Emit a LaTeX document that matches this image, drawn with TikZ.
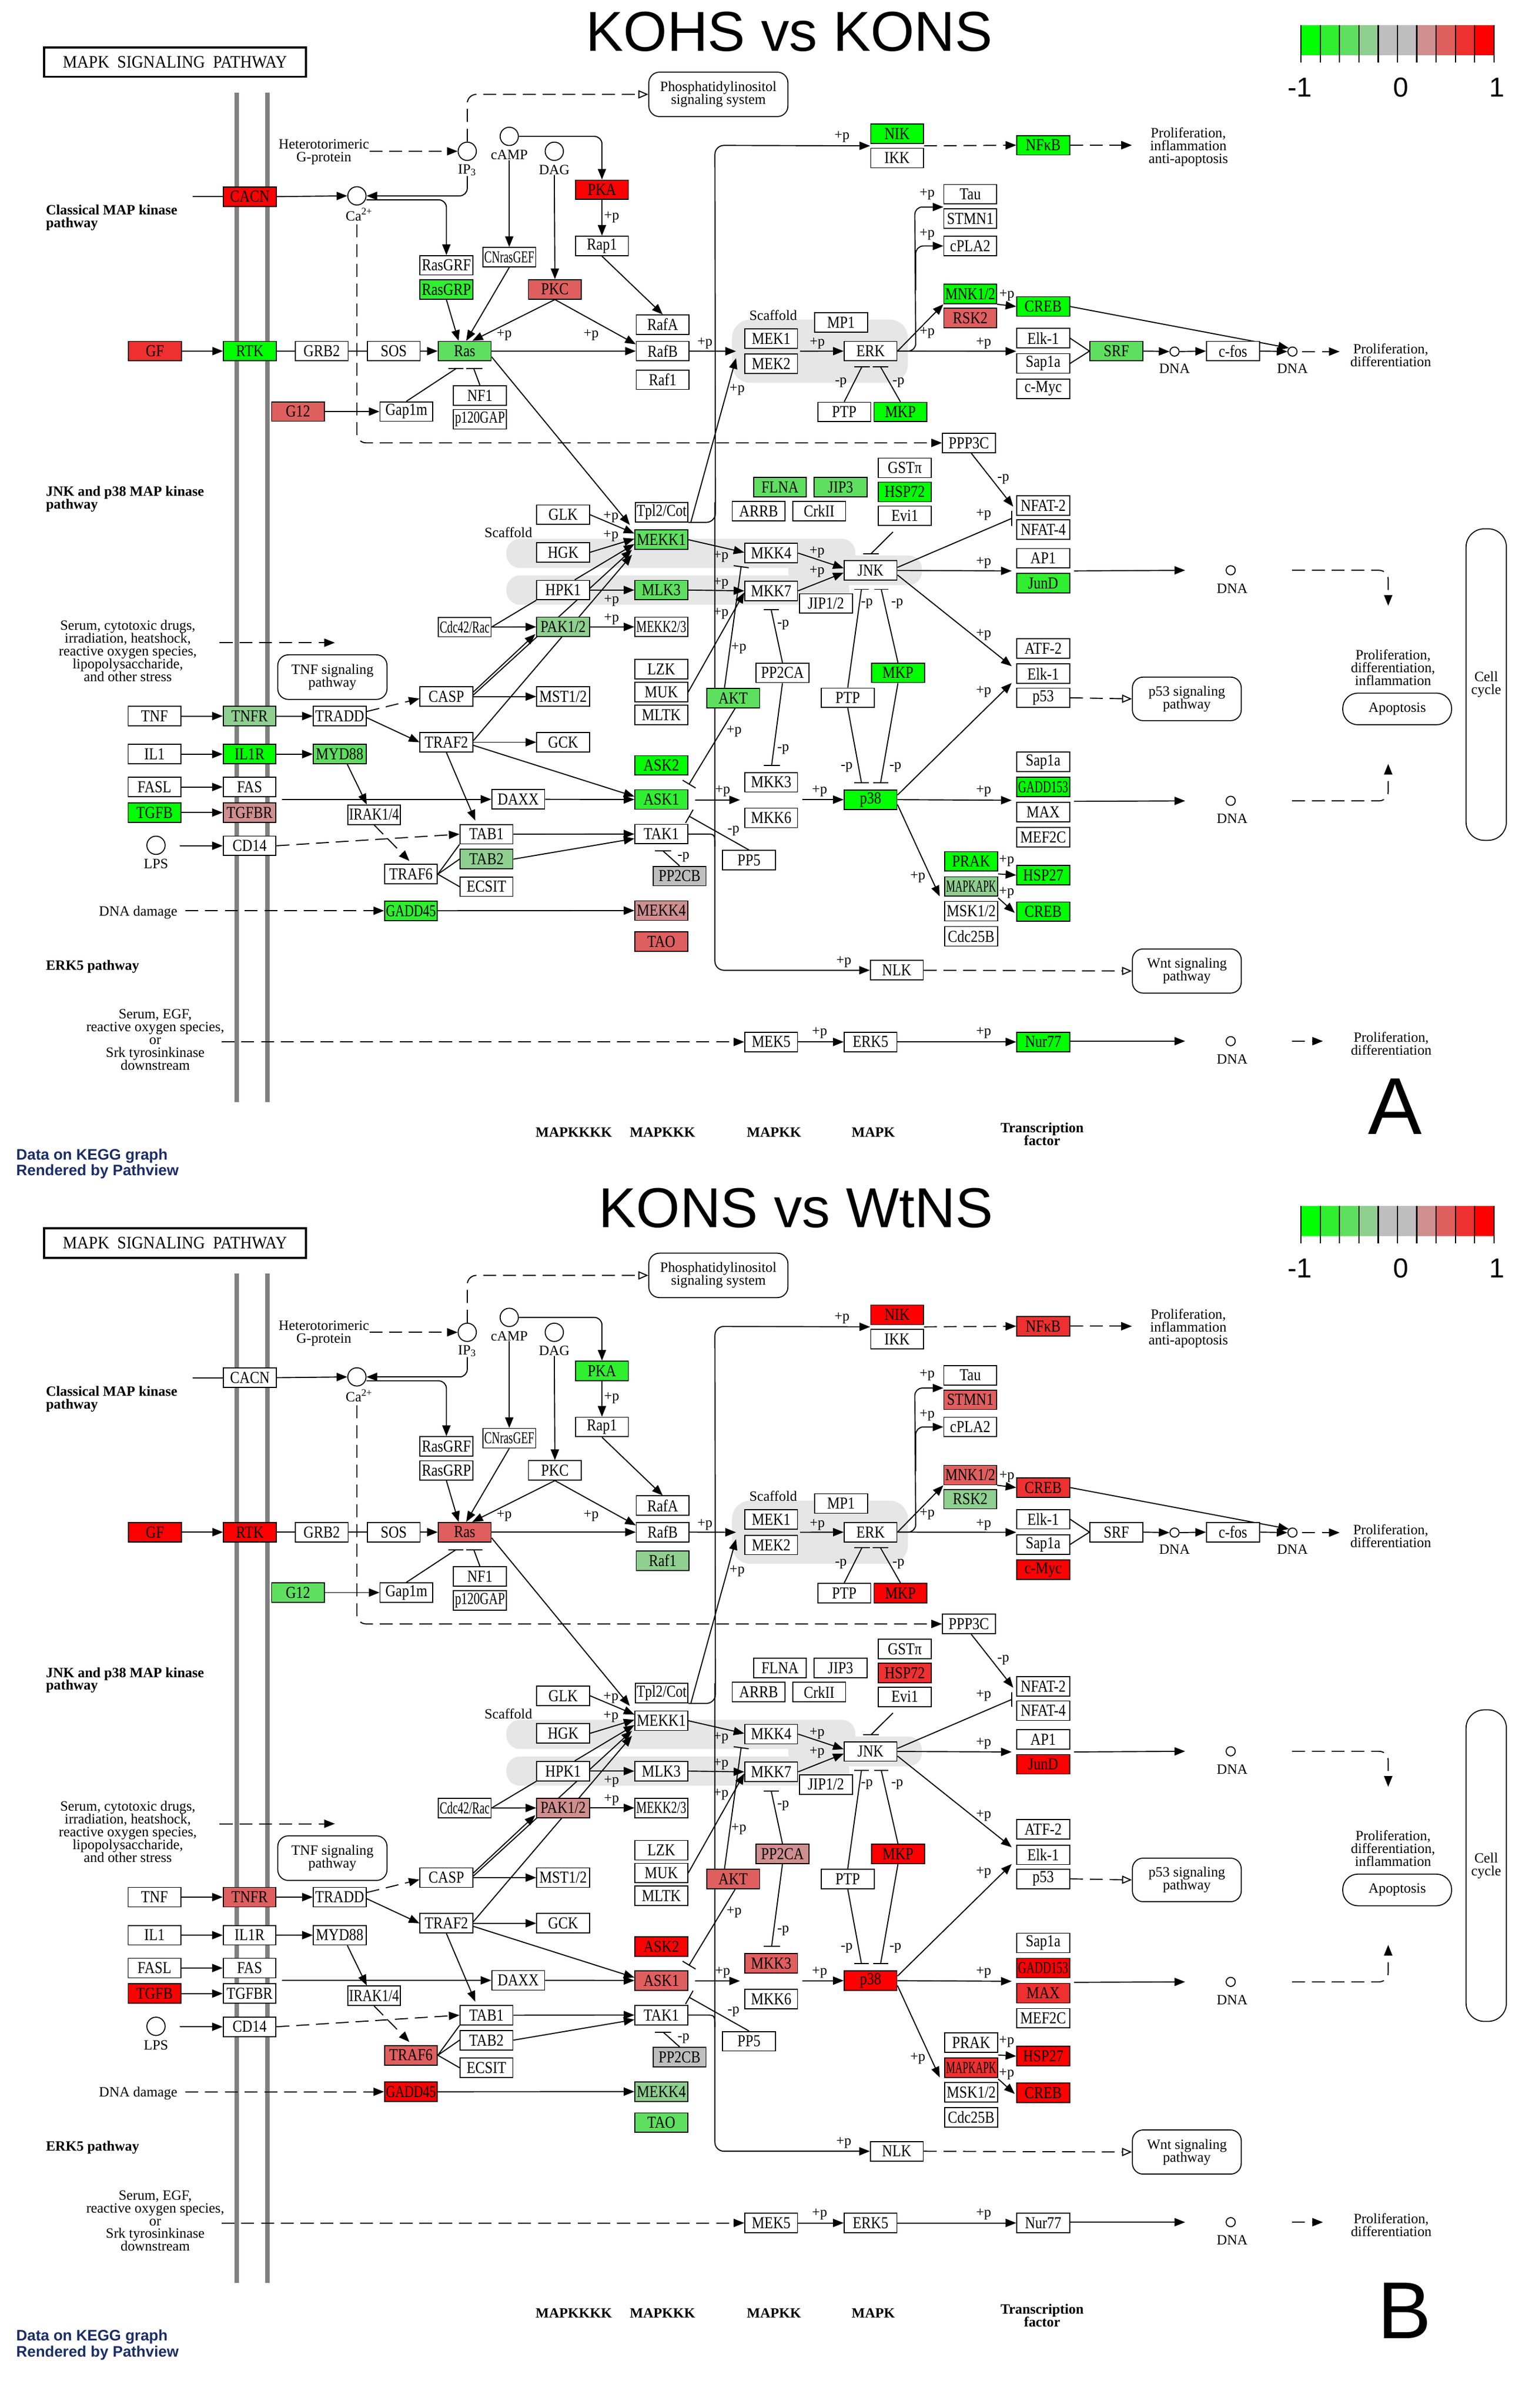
\documentclass[tikz,border=0pt]{standalone}
\usepackage{fontspec}
\setmainfont{Liberation Serif}
\setsansfont{Liberation Sans}
\usepackage{graphicx}
\usetikzlibrary{arrows.meta,calc}
\pgfdeclarelayer{bg}
\pgfdeclarelayer{mid}
\pgfsetlayers{bg,mid,main}
\definecolor{g1}{HTML}{00FF00}
\definecolor{g2}{HTML}{30EF30}
\definecolor{g3}{HTML}{5FDF5F}
\definecolor{g4}{HTML}{8FCF8F}
\definecolor{gy}{HTML}{BEBEBE}
\definecolor{r4}{HTML}{CF8F8F}
\definecolor{r3}{HTML}{DF5F5F}
\definecolor{r2}{HTML}{EF3030}
\definecolor{r1}{HTML}{FF0000}
\definecolor{scafc}{HTML}{E6E6E6}
\definecolor{memb}{HTML}{808080}
\definecolor{pvblue}{HTML}{1A2E66}
\newsavebox\glbox
\newcommand\gfont{\fontsize{11}{11}\selectfont}
\newcommand\kfont{\fontsize{9.3}{8.4}\selectfont\lineskiplimit=-8pt\relax}
\newcommand\bkfont{\fontsize{9.3}{8.4}\selectfont\bfseries\lineskiplimit=-8pt\relax}
\newcommand\glab[1]{\sbox\glbox{\gfont\scalebox{0.85}[1]{#1}}\ifdim\wd\glbox>32.8pt\resizebox{32.8pt}{\height}{\usebox\glbox}\else\usebox\glbox\fi}
\newcommand\setgc[2]{\expandafter\def\csname gcX#1\endcsname{#2}}
\newcommand\gene[3]{\ifcsname gcX#1\endcsname\edef\gtmp{\csname gcX#1\endcsname}\else\def\gtmp{white}\fi
  \node[gene,fill=\gtmp] (#1) at (#2) {\glab{#3}};}
\newcommand\pl[3]{\node[lbl] (#1) at (#2) {#3};}
\tikzset{
  gene/.style={draw=black,line width=0.65pt,minimum width=34.7pt,minimum height=12.8pt,inner sep=0pt},
  lbl/.style={inner sep=0pt,font=\kfont,align=center},
  blbl/.style={inner sep=0pt,font=\bkfont,align=center},
  con/.style={line width=0.7pt,draw=black},
  arr/.style={con,-{Triangle[length=7pt,width=5.4pt]}},
  oarr/.style={con,-{Triangle[open,length=6.5pt,width=5.4pt]}},
  inh/.style={con,-{Bar[width=10pt,line width=0.7pt]}},
  dsh/.style={dash pattern=on 8.5pt off 4.5pt},
  cpd/.style={circle,draw=black,line width=0.65pt,minimum size=12pt,inner sep=0pt,fill=white},
  dnac/.style={circle,draw=black,line width=0.65pt,minimum size=6pt,inner sep=0pt,fill=white},
  mapbox/.style={draw=black,line width=0.65pt,rounded corners=7pt,align=center,font=\kfont,inner sep=0pt,fill=white},
}
\newcommand\drawpanel{%
\begin{pgfonlayer}{bg}
 \draw[memb,line width=2.7pt] (155.5,60.8) -- (155.5,724.1);
 \draw[memb,line width=2.7pt] (175.7,60.8) -- (175.7,724.1);
 \fill[scafc,rounded corners=12pt] (481,210) rectangle (596.5,251.5);
 \fill[scafc,rounded corners=9pt] (332.7,354) rectangle (562,373.2);
 \fill[scafc,rounded corners=9pt] (332.7,378.1) rectangle (558,397.3);
 \fill[scafc,rounded corners=9pt] (518,365) rectangle (605.8,384.5);
\end{pgfonlayer}
 \node[draw,line width=1.3pt,minimum width=172.1pt,minimum height=19.4pt,inner sep=0pt] (mapk) at (114.95,40.8) {\scalebox{0.92}[1]{\fontsize{11.5}{11.5}\selectfont MAPK\enspace SIGNALING\enspace PATHWAY}};
 \foreach \c [count=\i from 0] in {g1,g2,g3,g4,gy,gy,r4,r3,r2,r1}{\fill[\c] (854.8+12.68*\i,16.4) rectangle ++(12.68,19.9);}
 \foreach \i in {0,...,10}{\draw[line width=0.8pt] (854.8+12.68*\i,16.4) -- ++(0,24.6);}
 \node[font=\fontsize{18}{18}\selectfont\sffamily,inner sep=0pt] (lgm) at (854,57.3) {-1};
 \node[font=\fontsize{18}{18}\selectfont\sffamily,inner sep=0pt] (lgz) at (920.3,57.3) {0};
 \node[font=\fontsize{18}{18}\selectfont\sffamily,inner sep=0pt] (lgp) at (983.5,57.3) {1};
 \node[anchor=west,align=left,inner sep=0pt,font=\fontsize{10}{10.5}\selectfont\sffamily\bfseries,text=pvblue] (kegg) at (10.5,764.6) {Data on KEGG graph\\Rendered by Pathview};
 \gene{cacn}{164.2,129.2}{CACN}
 \gene{gf}{101.8,230.7}{GF}
 \gene{rtk}{164.2,230.7}{RTK}
 \gene{grb2}{211.4,230.7}{GRB2}
 \gene{sos}{258.7,230.7}{SOS}
 \gene{ras}{305.3,230.7}{Ras}
 \gene{g12}{195.8,270.4}{G12}
 \gene{gap1m}{267,270.4}{Gap1m}
 \gene{nf1}{315.3,259.8}{NF1}
 \gene{p120}{315.3,275.5}{p120GAP}
 \gene{rasgrf}{293.3,174.3}{RasGRF}
 \gene{rasgrp}{293.3,190.2}{RasGRP}
 \gene{cnras}{334.6,169}{CNrasGEF}
 \gene{pka}{395.5,124.7}{PKA}
 \gene{rap1}{395.5,161.6}{Rap1}
 \gene{pkc}{364.6,190.1}{PKC}
 \gene{rafa}{435.4,213.3}{RafA}
 \gene{rafb}{435.4,230.7}{RafB}
 \gene{raf1}{435.4,249.5}{Raf1}
 \gene{mek1}{506.7,222.4}{MEK1}
 \gene{mek2}{506.7,239.1}{MEK2}
 \gene{mp1}{552.6,211.9}{MP1}
 \gene{erk}{572,230.7}{ERK}
 \gene{ptpA}{554.7,270.7}{PTP}
 \gene{mkpA}{591.6,270.7}{MKP}
 \gene{nik}{589.4,87.9}{NIK}
 \gene{ikk}{589.4,103.8}{IKK}
 \gene{nfkb}{685.4,95.4}{NFκB}
 \gene{tau}{637.5,127.6}{Tau}
 \gene{stmn1}{637.5,143.7}{STMN1}
 \gene{cpla2}{637.5,161.6}{cPLA2}
 \gene{mnk}{637.5,193.2}{MNK1/2}
 \gene{rsk2}{637.5,209}{RSK2}
 \gene{crebA}{685.4,201.4}{CREB}
 \gene{elkA}{685.4,222.2}{Elk-1}
 \gene{sapA}{685.4,238.8}{Sap1a}
 \gene{cmyc}{685.4,255.4}{c-Myc}
 \gene{srf}{733.5,230.7}{SRF}
 \gene{cfos}{810.1,230.7}{c-fos}
 \gene{ppp3c}{636.6,291}{PPP3C}
 \gene{flna}{512.5,320}{FLNA}
 \gene{jip3}{552.3,320}{JIP3}
 \gene{arrb}{498.5,335.8}{ARRB}
 \gene{crkii}{538.2,335.8}{CrkII}
 \gene{gst}{594.5,307.4}{GSTπ}
 \gene{hsp72}{594.5,323.2}{HSP72}
 \gene{evi1}{594.5,338.9}{Evi1}
 \gene{glk}{370,338.2}{GLK}
 \gene{hgk}{370,362.9}{HGK}
 \gene{hpk1}{370,387.7}{HPK1}
 \gene{pak}{370,411.9}{PAK1/2}
 \gene{cdc42}{305.3,412}{Cdc42/Rac}
 \gene{tpl2}{434.7,336.5}{Tpl2/Cot}
 \gene{mekk1}{434.5,354.6}{MEKK1}
 \gene{mlk3}{434.5,387.7}{MLK3}
 \gene{mekk23}{434.5,411.9}{MEKK2/3}
 \gene{mkk4}{506.7,363.4}{MKK4}
 \gene{mkk7}{506.7,388.2}{MKK7}
 \gene{jip12}{542.7,396.5}{JIP1/2}
 \gene{jnk}{572,374.8}{JNK}
 \gene{nfat2}{685.4,332.1}{NFAT-2}
 \gene{nfat4}{685.4,348}{NFAT-4}
 \gene{ap1}{685.4,366.8}{AP1}
 \gene{jund}{685.4,383.2}{JunD}
 \gene{atf2}{685.4,426}{ATF-2}
 \gene{elkB}{685.4,442.7}{Elk-1}
 \gene{p53}{685.4,458.5}{p53}
 \gene{sapB}{685.4,500.6}{Sap1a}
 \gene{gadd153}{685.4,517.1}{GADD153}
 \gene{max}{685.4,533.6}{MAX}
 \gene{mef2c}{685.4,550.1}{MEF2C}
 \gene{hsp27}{685.4,575}{HSP27}
 \gene{crebB}{685.4,599}{CREB}
 \gene{nur77}{685.4,684.6}{Nur77}
 \gene{prak}{638.1,566}{PRAK}
 \gene{mapkapk}{638.1,582.5}{MAPKAPK}
 \gene{msk}{638.1,598.7}{MSK1/2}
 \gene{cdc25b}{638.1,615.2}{Cdc25B}
 \gene{nlk}{589.2,637.5}{NLK}
 \gene{mek5}{506.7,684.6}{MEK5}
 \gene{erk5}{572,684.6}{ERK5}
 \gene{pp2ca}{514.1,442.1}{PP2CA}
 \gene{mkpB}{590,442.1}{MKP}
 \gene{ptpB}{557,458.5}{PTP}
 \gene{mkk3}{506.7,514}{MKK3}
 \gene{mkk6}{506.7,537.4}{MKK6}
 \gene{p38}{572,525.4}{p38}
 \gene{lzk}{434.5,439.7}{LZK}
 \gene{muk}{434.5,454.7}{MUK}
 \gene{mltk}{434.5,469.7}{MLTK}
 \gene{akt}{481.7,458.7}{AKT}
 \gene{ask2}{434.5,502.9}{ASK2}
 \gene{ask1}{434.5,525.3}{ASK1}
 \gene{tak1}{434.5,548}{TAK1}
 \gene{pp2cb}{446.5,575.6}{PP2CB}
 \gene{pp5}{492.1,565.2}{PP5}
 \gene{mekk4}{434.5,598.3}{MEKK4}
 \gene{tao}{434.5,618.7}{TAO}
 \gene{mst}{370,457.7}{MST1/2}
 \gene{gck}{370,487.7}{GCK}
 \gene{casp}{293.3,457.7}{CASP}
 \gene{traf2}{293.3,487.7}{TRAF2}
 \gene{tradd}{223.2,470.5}{TRADD}
 \gene{daxx}{340.5,525.2}{DAXX}
 \gene{tab1}{319.6,548.1}{TAB1}
 \gene{tab2}{319.6,564.5}{TAB2}
 \gene{ecsit}{319.6,582.6}{ECSIT}
 \gene{traf6}{270,574.4}{TRAF6}
 \gene{irak}{245.8,535.3}{IRAK1/4}
 \gene{myd88}{223.2,495.5}{MYD88}
 \gene{gadd45}{270,598.4}{GADD45}
 \gene{tnf}{101.5,470.5}{TNF}
 \gene{tnfr}{164,470.5}{TNFR}
 \gene{il1}{101.5,495.5}{IL1}
 \gene{il1r}{164,495.5}{IL1R}
 \gene{fasl}{101.5,517.1}{FASL}
 \gene{fas}{164,517.1}{FAS}
 \gene{tgfb}{101.5,533.9}{TGFB}
 \gene{tgfbr}{164,533.9}{TGFBR}
 \gene{cd14}{164,555.7}{CD14}
 \node[cpd] (ip3) at (307,99.4) {};
 \node[cpd] (camp) at (334.6,89.6) {};
 \node[cpd] (dag) at (364.2,99.4) {};
 \node[cpd] (ca) at (234.5,128.7) {};
 \node[cpd] (lps) at (102.5,555.4) {};
 \node[lbl] (ip3l) at (307,111.8) {IP\textsubscript{3}};
 \node[lbl] (campl) at (334.6,101.8) {cAMP};
 \node[lbl] (dagl) at (364.2,111.6) {DAG};
 \node[lbl] (cal) at (236,141) {Ca\textsuperscript{2+}};
 \node[lbl] (lpsl) at (102.5,567.7) {LPS};
 \node[dnac] (dna1) at (771.7,231) {};
 \node[dnac] (dna2) at (849.2,231) {};
 \node[dnac] (dna3) at (808.6,374.7) {};
 \node[dnac] (dna4) at (808.6,526.2) {};
 \node[dnac] (dna5) at (808.6,684.1) {};
 \node[lbl] (dnal1) at (771.7,242.2) {DNA};
 \node[lbl] (dnal2) at (849.2,242.2) {DNA};
 \node[lbl] (dnal3) at (809.6,386.7) {DNA};
 \node[lbl] (dnal4) at (809.6,537.9) {DNA};
 \node[lbl] (dnal5) at (809.6,695.8) {DNA};
 \node[mapbox,minimum width=91.4pt,minimum height=29.2pt] (phos) at (472,62) {Phosphatidylinositol\\signaling system};
 \node[mapbox,minimum width=71.8pt,minimum height=29.3pt] (tnfsig) at (218.4,444.9) {TNF signaling\\pathway};
 \node[mapbox,minimum width=71.5pt,minimum height=28.6pt] (p53sig) at (779.8,459.2) {p53 signaling\\pathway};
 \node[mapbox,minimum width=71.5pt,minimum height=29pt] (wnt) at (779.8,638) {Wnt signaling\\pathway};
 \node[mapbox,rounded corners=10pt,minimum width=71.5pt,minimum height=20.8pt] (apop) at (918,465.8) {Apoptosis};
 \node[mapbox,rounded corners=12pt,minimum width=26.5pt,minimum height=204.7pt] (cellc) at (976.5,449.8) {Cell\\cycle};
 \node[lbl] (hetero) at (212.8,100) {Heterotorimeric\\G-protein};
 \node[blbl,align=left,anchor=west] (classical) at (30,143.2) {Classical MAP kinase\\pathway};
 \node[blbl,align=left,anchor=west] (jnkp) at (30,328) {JNK and p38 MAP kinase\\pathway};
 \node[blbl,anchor=west] (erk5p) at (30,635) {ERK5 pathway};
 \node[lbl] (stress) at (84,427.6) {Serum, cytotoxic drugs,\\irradiation, heatshock,\\reactive oxygen species,\\lipopolysaccharide,\\and other stress};
 \node[lbl] (dnadam) at (90.8,599.5) {DNA damage};
 \node[lbl] (serum) at (102,683.2) {Serum, EGF,\\reactive oxygen species,\\or\\Srk tyrosinkinase\\downstream};
 \node[lbl] (scaf1) at (508,207) {Scaffold};
 \node[lbl] (scaf2) at (334,350) {Scaffold};
 \node[lbl] (pia) at (780.8,96.7) {Proliferation,\\inflammation\\anti-apoptosis};
 \node[lbl] (pd1) at (913.8,233.4) {Proliferation,\\differentiation};
 \node[lbl] (pdi) at (915.3,438.6) {Proliferation,\\differentiation,\\inflammation};
 \node[lbl] (pd2) at (914.1,685.8) {Proliferation,\\differentiation};
 \node[blbl] (col1) at (377,744) {MAPKKKK};
 \node[blbl] (col2) at (435.3,744) {MAPKKK};
 \node[blbl] (col3) at (508.5,744) {MAPKK};
 \node[blbl] (col4) at (573.8,744) {MAPK};
 \node[blbl] (col5) at (684.7,745.3) {Transcription\\factor};
 \pl{p1}{401.9,142.7}{+p} \pl{p2}{331.3,220}{+p} \pl{p3}{388.4,220}{+p}
 \pl{p4}{463.2,225.8}{+p} \pl{p5}{484.3,256.2}{+p} \pl{p6}{537,225.8}{+p}
 \pl{p7}{646.3,225.8}{+p} \pl{p8}{609.2,218.8}{+p} \pl{p9}{609.2,127.5}{+p}
 \pl{p10}{609.2,154}{+p} \pl{p11}{661.5,194.2}{+p} \pl{p12}{553.2,90}{+p}
 \pl{m1}{552.5,251.5}{-p} \pl{m2}{590.3,251.5}{-p}
 \pl{p13}{401.4,339.6}{+p} \pl{p14}{401.4,352}{+p} \pl{p15}{401.8,394.6}{+p}
 \pl{p16}{401.8,406.8}{+p} \pl{p17}{473.7,365.9}{+p} \pl{p18}{473.7,383.4}{+p}
 \pl{p19}{473.7,403}{+p} \pl{p20}{485.4,425.9}{+p} \pl{p21}{536.8,363}{+p}
 \pl{p22}{536.8,375.6}{+p}
 \pl{m3}{569.6,396.6}{-p} \pl{m4}{589.5,396.6}{-p} \pl{m5}{556.3,504}{-p}
 \pl{m6}{588.3,504}{-p} \pl{m7}{514.6,410.6}{-p} \pl{m8}{514.6,492.5}{-p}
 \pl{p23}{646.3,338.1}{+p} \pl{m9}{659.2,314.7}{-p} \pl{p24}{646.3,369.7}{+p}
 \pl{p25}{646.3,417}{+p} \pl{p26}{646.3,454.5}{+p} \pl{p27}{646.3,520}{+p}
 \pl{p28}{482.3,480.5}{+p} \pl{p29}{474.8,520}{+p} \pl{m10}{481.9,545.8}{-p}
 \pl{m11}{449.1,563.3}{-p} \pl{p30}{538.5,520}{+p} \pl{p31}{603,576.5}{+p}
 \pl{p32}{661.4,565.6}{+p} \pl{p33}{661.4,586.7}{+p} \pl{p34}{554.4,632}{+p}
 \pl{p35}{538.5,678.8}{+p} \pl{p36}{646.3,678.8}{+p}
 \coordinate (cacnin) at (126.7,129.2);
 \coordinate (cadn) at (234.5,147.4);
 \coordinate (mekin) at (483.6,230.8);
 \coordinate (pd1in) at (880.2,231);
 \coordinate (piain) at (743.7,95.4);
 \coordinate (vtop) at (469.7,95.5);
 \coordinate (vbot) at (469.7,637.5);
 \coordinate (stsrc) at (144.3,422.3);
 \coordinate (sttgt) at (220,422.3);
 \coordinate (dnadsrc) at (121.7,598.4);
 \coordinate (e5src) at (145.5,684.6);
 \coordinate (lpsout) at (118.1,555.7);
 \coordinate (fasout) at (185.3,525.2);
 \coordinate (pdiT) at (912.1,398);
 \coordinate (pdiB) at (912.1,501.9);
 \coordinate (pd2in) at (869.2,684.1);
\begin{pgfonlayer}{mid}
 \draw[dsh,arr] (hetero.east |- ip3.west) -- (ip3.west);
 \draw[dsh,oarr,rounded corners=6pt] (ip3.north) |- (phos.west);
 \draw[arr,rounded corners=5pt] (ip3l.south) |- (ca.east);
 \draw[con] (cacnin) -- (cacn.west);
 \draw[arr] (cacn.east) -- (ca.west);
 \draw[arr,rounded corners=5pt] ($(ca.east)+(0,2.6)$) -| (rasgrf.north);
 \draw[dsh,arr,rounded corners=6pt] (cadn) |- (ppp3c.west);
 \draw[arr,rounded corners=5pt] (camp.east) -| (pka.north);
 \draw[arr] (campl.south) -- (cnras.north);
 \draw[arr] (dagl.south) -- (pkc.north);
 \draw[arr] (pka.south) -- (rap1.north);
 \draw[arr] (rap1.south) -- (rafa.north);
 \draw[arr] (pkc.south) -- ($(rafb.west)+(0,-4.5)$);
 \draw[arr] (pkc.south) -- ($(ras.north)+(5,0)$);
 \draw[arr] (rasgrp.south) -- ($(ras.north)+(-4,0)$);
 \draw[arr] (cnras.south) -- ($(ras.north)+(1,0)$);
 \draw[arr] (gf.east) -- (rtk.west);
 \draw[con] (rtk.east) -- (grb2.west);
 \draw[con] (grb2.east) -- (sos.west);
 \draw[arr] (sos.east) -- (ras.west);
 \draw[arr] (ras.east) -- (rafb.west);
 \draw[arr] (g12.east) -- (gap1m.west);
 \draw[con] (gap1m.north) -- ($(ras.south)+(-5.7,4.8)$);
 \draw[con] ($(ras.south)+(-10.7,4.8)$) -- ++(10,0);
 \draw[con] (nf1.north) -- ($(ras.south)+(6,4.8)$);
 \draw[con] ($(ras.south)+(1.1,4.8)$) -- ++(10.4,0);
 \draw[arr] ($(ras.south east)+(0,-3)$) -- ($(mekk1.north west)+(-3,-3)$);
 \draw[arr] (rafb.east) -- (mekin);
 \draw[arr] ($(tpl2.south east)+(1.5,0)$) -- ($(mekin)+(0,4.5)$);
 \draw[arr] ($(mek1.east)+(1.3,8.4)$) -- (erk.west);
 \draw[arr] (erk.east) -- ($(elkA.west)+(0,8.6)$);
 \draw[arr] (erk.east) -- (mnk.south west);
 \draw[arr,rounded corners=5pt] (erk.east) -- ($(erk.east)+(12,0)$) -- ($(tau.south west)+(-18.8,1.7)$) -- ($(tau.south west)+(0,1.7)$);
 \draw[arr,rounded corners=5pt] ($(erk.east)+(12,-40)$) -- ($(erk.east)+(12,-69.1)$) -- (cpla2.west);
 \draw[arr] (mnk.south east) -- (crebA.west);
 \draw[arr] (crebA.east) -- (dna2.north west);
 \draw[con] (elkA.east) -- (srf.west);
 \draw[con] (sapA.east) -- (srf.west);
 \draw[arr] (srf.east) -- (dna1.west);
 \draw[arr] (dna1.east) -- (cfos.west);
 \draw[arr] (cfos.east) -- (dna2.west);
 \draw[dsh,arr] ($(dna2.east)+(3,0)$) -- (pd1in);
 \draw[arr,rounded corners=6pt] (tpl2.south east) -- ($(tpl2.south east)+(17.7,0)$) -- (vtop) -- ($(nik.south west)+(0,1.2)$);
 \draw[arr,rounded corners=6pt] (469.7,330) -- (vbot) -- (nlk.west);
 \draw[con] (tak1.east) -- (463.5,548) .. controls (469.7,548) .. (469.7,556);
 \draw[dsh,arr] ($(nik.south east)+(0,1.2)$) -- (nfkb.west);
 \draw[dsh,arr] (nfkb.east) -- (piain);
 \draw[con] (ptpA.north) -- (566.3,241);
 \draw[con] (561.4,241) -- (571.4,241);
 \draw[con] (mkpA.north) -- (578.5,241);
 \draw[con] (573.2,241) -- (583.6,241);
 \draw[arr] (glk.east) -- ($(mekk1.west)+(0,-4.1)$);
 \draw[arr] (hgk.east) -- ($(mekk1.west)+(0,-0.6)$);
 \draw[arr] ($(hpk1.north)+(7.6,0)$) -- ($(mekk1.west)+(0,2.9)$);
 \draw[arr] ($(casp.east)+(0,-1)$) -- ($(mekk1.south west)+(-1.6,-0.1)$);
 \draw[arr] ($(traf2.east)+(0,-1)$) -- ($(mekk1.south west)+(-1.6,3.2)$);
 \draw[arr] ($(casp.east)+(0,-3)$) -- ($(pak.south west)+(-0.6,-2)$);
 \draw[arr] (cdc42.east) -- (pak.west);
 \draw[con] (cdc42.east) -- (hpk1.south west);
 \draw[arr] (hpk1.east) -- (mlk3.west);
 \draw[arr] (pak.east) -- (mekk23.west);
 \draw[arr] (mekk1.east) -- ($(mkk4.west)+(0,-0.4)$);
 \draw[arr] (mlk3.east) -- (mkk7.west);
 \draw[arr] (muk.east) -- ($(mkk7.west)+(0,1.1)$);
 \draw[inh] ($(akt.north)+(-5.7,0)$) -- (487,372);
 \draw[inh] ($(akt.south)+(1.3,0)$) -- (452.6,515.5);
 \draw[inh] (pp5.north) -- (452.6,536.2);
 \draw[con] (pp2cb.north) -- (435.7,559.2);
 \draw[con] (430.4,559.2) -- (440.9,559.2);
 \draw[con] (pp2ca.north) -- (506.7,400.7);
 \draw[con] (501.7,400.7) -- (511.7,400.7);
 \draw[con] (pp2ca.south) -- (507,502.8);
 \draw[con] (501.7,502.8) -- (512.3,502.8);
 \draw[arr] ($(ask1.east)+(4.4,0.3)$) -- ($(mkk3.west)+(-2.8,11.6)$);
 \draw[arr] ($(mkk3.east)+(2.8,11.4)$) -- (p38.west);
 \draw[arr] (mkk4.east) -- ($(jnk.west)+(0,-1.5)$);
 \draw[arr] (mkk7.east) -- ($(jnk.west)+(0,1.5)$);
 \draw[con] ($(evi1.south)+(-7.8,3.9)$) -- (572.2,363.9);
 \draw[con] (567.2,363.9) -- (577.3,363.9);
 \draw[con] (ptpB.north) -- (566,387.2);
 \draw[con] (561.4,387.2) -- (570.7,387.2);
 \draw[con] (mkpB.north) -- (579,387.2);
 \draw[con] (574.3,387.2) -- (583.6,387.2);
 \draw[con] (ptpB.south) -- (566,514.2);
 \draw[con] (561.4,514.2) -- (570.7,514.2);
 \draw[con] (mkpB.south) -- (578.6,514.2);
 \draw[con] (573.6,514.2) -- (583.6,514.2);
 \draw[con] ($(jnk.east)+(0,-2)$) -- (664.8,340.6);
 \draw[con] (664.8,335.8) -- (664.8,345.4);
 \draw[arr] ($(ppp3c.south)+(1.5,0)$) -- ($(nfat2.west)+(-2,0.8)$);
 \draw[arr] (jnk.east) -- ($(ap1.south west)+(-3,1.6)$);
 \draw[arr] ($(jnk.east)+(0,3)$) -- ($(atf2.south west)+(-3,5)$);
 \draw[arr] ($(p38.east)+(0,-3)$) -- ($(p53.north west)+(-3,-3)$);
 \draw[arr] (p38.east) -- ($(gadd153.south west)+(-3,2)$);
 \draw[arr] ($(p38.south east)+(0,-3.5)$) -- ($(msk.north west)+(-3,-3)$);
 \draw[arr] ($(prak.south east)+(0,1.5)$) -- (hsp27.west);
 \draw[arr] ($(mapkapk.south east)+(0,0.7)$) -- ($(crebB.west)+(-1,0.8)$);
 \draw[arr] ($(ap1.south east)+(2.6,1.6)$) -- ($(dna3.west)+(-26.6,0)$);
 \draw[arr] ($(gadd153.south east)+(2.6,2.7)$) -- ($(dna4.west)+(-26.6,0)$);
 \draw[arr] ($(nur77.east)+(0,-0.5)$) -- ($(dna5.west)+(-26.6,0)$);
 \draw[dsh,arr,rounded corners=6pt] ($(dna3.east)+(37,0)$) -- (pdiT |- dna3.east) -- (pdiT);
 \draw[dsh,arr,rounded corners=6pt] ($(dna4.east)+(37,0)$) -- (pdiB |- dna4.east) -- (pdiB);
 \draw[dsh,arr] ($(dna5.east)+(37,0)$) -- (pd2in);
 \draw[dsh,oarr] (p53.east) -- (p53sig.west);
 \draw[dsh,oarr] (nlk.east) -- (wnt.west);
 \draw[arr] (mek5.east) -- (erk5.west);
 \draw[arr] (erk5.east) -- (nur77.west);
 \draw[dsh,arr] (e5src) -- (mek5.west);
 \draw[dsh,arr] (stsrc) -- (sttgt);
 \draw[dsh,arr] (dnadsrc) -- (gadd45.west);
 \draw[arr] (gadd45.east) -- (mekk4.west);
 \draw[arr] (tnf.east) -- (tnfr.west);
 \draw[arr] (tnfr.east) -- (tradd.west);
 \draw[arr] (il1.east) -- (il1r.west);
 \draw[arr] (il1r.east) -- (myd88.west);
 \draw[arr] (fasl.east) -- (fas.west);
 \draw[arr] (tgfb.east) -- (tgfbr.west);
 \draw[arr] (lpsout) -- (cd14.west);
 \draw[arr] (fasout) -- (daxx.west);
 \draw[dsh,arr] (cd14.east) -- (tab1.west);
 \draw[dsh,arr] ($(tradd.east)+(0,-3)$) -- ($(casp.west)+(0,1.3)$);
 \draw[arr] ($(tradd.east)+(0,1)$) -- (traf2.west);
 \draw[arr] ($(myd88.south)+(5,0)$) -- ($(irak.north)+(-4.8,0)$);
 \draw[dsh,arr] (irak.south) -- ($(traf6.north)+(-1,-2)$);
 \draw[con] (traf6.east) -- (tab1.south west);
 \draw[con] (traf6.east) -- (tab2.west);
 \draw[con] (traf6.east) -- (ecsit.west);
 \draw[arr] (traf2.south) -- ($(tab1.north)+(-7.3,-2.2)$);
 \draw[arr] ($(traf2.east)+(0,2)$) -- ($(ask1.west)+(0,-2)$);
 \draw[arr] (casp.east) -- (mst.west);
 \draw[arr] (traf2.east) -- (gck.west);
 \draw[arr] (daxx.east) -- (ask1.west);
 \draw[arr] (tab1.east) -- (tak1.west);
 \draw[arr] (tab2.east) -- ($(tak1.west)+(0,3)$);
\end{pgfonlayer}
}
\begin{document}
\begin{tikzpicture}[x=1pt,y=-1pt]
\useasboundingbox (0,0) rectangle (1000,1582.2);
\begin{pgfonlayer}{bg}
\fill[white] (0,0) rectangle (1000,1582.2);
\end{pgfonlayer}
\node[font=\fontsize{37}{37}\selectfont\sffamily,inner sep=0pt] (titleA) at (518.6,21) {KOHS vs KONS};
\node[font=\fontsize{37}{37}\selectfont\sffamily,inner sep=0pt] (titleB) at (522.9,793.7) {KONS vs WtNS};
\node[font=\fontsize{53}{53}\selectfont\sffamily,inner sep=0pt] (letA) at (916.5,727) {A};
\node[font=\fontsize{53}{53}\selectfont\sffamily,inner sep=0pt] (letB) at (922.9,1518.3) {B};
\begin{scope}[name prefix=A-]
 \setgc{cacn}{r1}\setgc{gf}{r2}\setgc{rtk}{g1}\setgc{g12}{r3}\setgc{rasgrp}{g2}
 \setgc{ras}{g3}\setgc{pka}{r1}\setgc{pkc}{r3}\setgc{nik}{g1}\setgc{nfkb}{g1}
 \setgc{mnk}{g1}\setgc{rsk2}{r3}\setgc{crebA}{g1}\setgc{srf}{g3}\setgc{mkpA}{g1}
 \setgc{flna}{g3}\setgc{jip3}{g3}\setgc{hsp72}{g1}\setgc{mekk1}{g3}\setgc{mlk3}{g3}
 \setgc{pak}{g4}\setgc{tnfr}{g4}\setgc{il1r}{g1}\setgc{myd88}{g3}\setgc{tgfb}{g1}
 \setgc{tgfbr}{r4}\setgc{tab2}{g4}\setgc{gadd45}{g2}\setgc{akt}{g3}\setgc{ask2}{g1}
 \setgc{ask1}{g2}\setgc{mkpB}{g1}\setgc{p38}{g1}\setgc{jund}{g2}\setgc{gadd153}{g1}
 \setgc{prak}{g1}\setgc{mapkapk}{g4}\setgc{hsp27}{g1}\setgc{crebB}{g1}\setgc{nur77}{g1}
 \setgc{pp2cb}{gy}\setgc{mekk4}{r4}\setgc{tao}{r3}
 \drawpanel
\end{scope}
\begin{scope}[shift={(0,776)},name prefix=B-]
 \setgc{gf}{r1}\setgc{rtk}{r1}\setgc{tgfb}{r1}\setgc{tnfr}{r3}\setgc{traf6}{r3}
 \setgc{gadd45}{r1}\setgc{g12}{g3}\setgc{ras}{r3}\setgc{pka}{g2}\setgc{raf1}{g4}
 \setgc{nik}{r1}\setgc{nfkb}{r2}\setgc{stmn1}{r3}\setgc{mnk}{r3}\setgc{rsk2}{g4}
 \setgc{crebA}{r2}\setgc{cmyc}{r1}\setgc{mkpA}{r1}\setgc{hsp72}{r2}\setgc{jund}{r1}
 \setgc{pak}{r4}\setgc{pp2ca}{r4}\setgc{akt}{r3}\setgc{mkpB}{r1}\setgc{ask2}{r1}
 \setgc{ask1}{r3}\setgc{mkk3}{r3}\setgc{p38}{r1}\setgc{gadd153}{r1}\setgc{max}{r2}
 \setgc{hsp27}{r1}\setgc{mapkapk}{r2}\setgc{crebB}{r1}\setgc{pp2cb}{gy}\setgc{mekk4}{g4}
 \setgc{tao}{g3}
 \drawpanel
\end{scope}
\end{tikzpicture}
\end{document}
